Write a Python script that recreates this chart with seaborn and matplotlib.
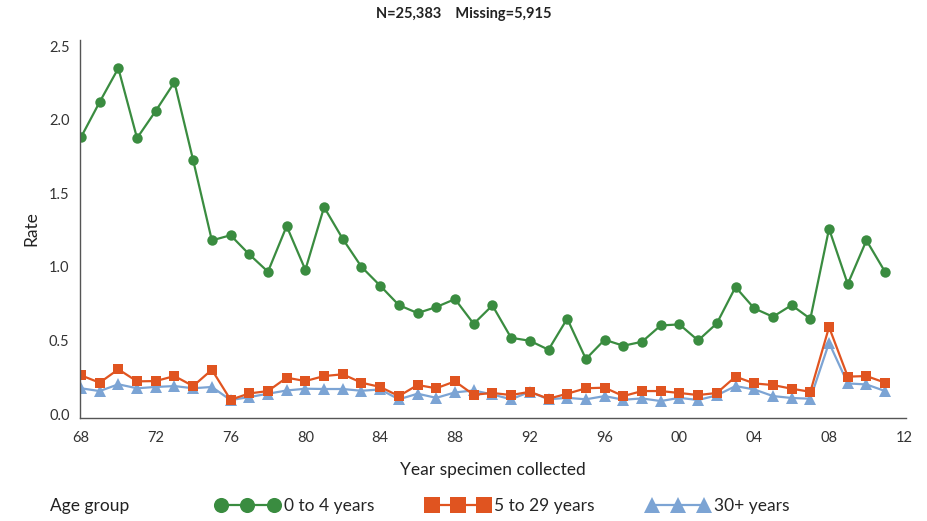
import numpy as np
import pandas as pd
import matplotlib
matplotlib.use("Agg")
import matplotlib.pyplot as plt
from matplotlib.lines import Line2D
from matplotlib.ticker import MultipleLocator, FuncFormatter
import seaborn as sns

years = list(range(1968, 2012))

age_0_4 = [1.88, 2.12, 2.35, 1.875, 2.06, 2.255, 1.725, 1.18, 1.215, 1.085,
           0.967, 1.277, 0.98, 1.406, 1.19, 1.0, 0.872, 0.74, 0.686, 0.727,
           0.781, 0.613, 0.738, 0.518, 0.498, 0.437, 0.648, 0.374, 0.505, 0.464,
           0.491, 0.602, 0.609, 0.50, 0.616, 0.863, 0.718, 0.661, 0.74, 0.647,
           1.259, 0.883, 1.18, 0.965]

age_5_29 = [0.263, 0.213, 0.304, 0.222, 0.224, 0.258, 0.19, 0.301, 0.097, 0.14,
            0.156, 0.247, 0.224, 0.258, 0.27, 0.213, 0.184, 0.122, 0.197, 0.175,
            0.222, 0.131, 0.143, 0.129, 0.151, 0.104, 0.138, 0.175, 0.179, 0.122,
            0.156, 0.156, 0.143, 0.129, 0.143, 0.254, 0.208, 0.197, 0.172, 0.151,
            0.591, 0.254, 0.258, 0.213]

age_30_plus = [0.175, 0.156, 0.202, 0.175, 0.184, 0.19, 0.175, 0.184, 0.095, 0.115,
               0.138, 0.16, 0.172, 0.17, 0.17, 0.158, 0.167, 0.10, 0.138, 0.11,
               0.147, 0.16, 0.133, 0.10, 0.151, 0.10, 0.11, 0.10, 0.122, 0.097,
               0.106, 0.088, 0.11, 0.095, 0.127, 0.19, 0.167, 0.122, 0.109, 0.104,
               0.484, 0.208, 0.201, 0.156]

groups = ["0 to 4 years", "5 to 29 years", "30+ years"]
colors = {"0 to 4 years": "#3a8c40", "5 to 29 years": "#e05420", "30+ years": "#7ca4d4"}
markers = {"0 to 4 years": "o", "5 to 29 years": "s", "30+ years": "^"}
msizes = {"0 to 4 years": 7.5, "5 to 29 years": 7.5, "30+ years": 8}

df = pd.DataFrame({
    "year": years * 3,
    "rate": age_0_4 + age_5_29 + age_30_plus,
    "group": np.repeat(groups, len(years)),
})

sns.set_style("white")
plt.rcParams["font.family"] = ["Lato", "DejaVu Sans"]

fig = plt.figure(figsize=(9.28, 5.21), dpi=100)
ax = fig.add_axes([0.0862, 0.1977, 0.8898, 0.7253])

# draw back to front so the green line sits on top
for g in reversed(groups):
    sub = df[df["group"] == g]
    sns.lineplot(data=sub, x="year", y="rate", ax=ax, color=colors[g],
                 marker=markers[g], markersize=msizes[g], markeredgewidth=0,
                 linewidth=1.6, legend=False)

ax.set_xlim(1967.95, 2012.1)
ax.set_ylim(-0.027, 2.541)
ax.xaxis.set_major_locator(MultipleLocator(4))
ax.xaxis.set_minor_locator(MultipleLocator(1))
ax.xaxis.set_major_formatter(FuncFormatter(lambda v, p: f"{int(v) % 100:02d}"))
ax.yaxis.set_major_locator(MultipleLocator(0.5))
ax.yaxis.set_major_formatter(FuncFormatter(lambda v, p: f"{v:.1f}"))

sns.despine(ax=ax)
for s in ["left", "bottom"]:
    ax.spines[s].set_color("#555555")
    ax.spines[s].set_linewidth(1.0)
ax.tick_params(axis="both", which="major", direction="out", length=6, width=1,
               color="#555555", labelsize=10.5, labelcolor="#333333")
ax.tick_params(axis="x", which="minor", direction="out", length=3.5, width=0.8,
               color="#555555")
ax.tick_params(axis="y", which="major", length=4)

ax.set_xlabel("Year specimen collected", fontsize=12.5, color="#222222", labelpad=12)
ax.set_ylabel("Rate", fontsize=12.5, color="#222222", labelpad=7)

fig.text(0.5, 0.973, "N=25,383    Missing=5,915", ha="center", va="center",
         fontsize=10.5, fontweight="bold", color="#222222")

handles = [Line2D([0], [0], color=colors[g], marker=markers[g], markersize=msizes[g] * 1.45,
                  markeredgewidth=0, linewidth=1.6) for g in groups]
fig.text(0.054, 0.028, "Age group", fontsize=12.5, color="#222222", va="center")
fig.legend(handles, groups, loc="center left", bbox_to_anchor=(0.233, 0.028), ncol=3,
           frameon=False, numpoints=3, handlelength=3.6, handletextpad=0.3,
           columnspacing=3.0, fontsize=12.5, borderpad=0, borderaxespad=0)

fig.savefig("out.png", dpi=100)
